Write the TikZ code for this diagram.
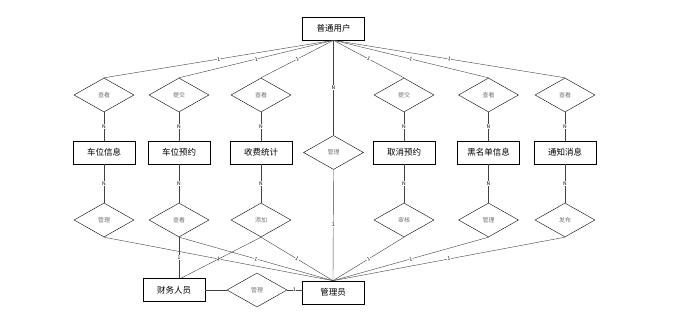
\documentclass[tikz,border=0pt]{standalone}
\usepackage{fontspec}
\setmainfont{Noto Sans CJK SC}
\usetikzlibrary{positioning, shapes.geometric}

\begin{document}
\begin{tikzpicture}[x=1pt, y=-1pt,
      ent/.style={draw, semithick, minimum width=62pt, minimum height=23pt, inner sep=0pt,
                  font=\fontsize{8.5}{9}\selectfont},
      rel/.style={draw, diamond, aspect=1.76, minimum width=60pt, minimum height=34pt,
                  inner sep=0pt, text=black!55, font=\fontsize{6}{7}\selectfont},
      conn/.style={draw=black!75},
      card/.style={font=\fontsize{5}{5}\selectfont, fill=white, inner sep=0.5pt},
   ]
   \useasboundingbox (0,0) rectangle (678,320);

   % ---- entities on top and bottom ----
   \node[ent] (user) at (333.5,28.5) {普通用户};
   \node[ent] (fin) at (174,290) {财务人员};
   \node[rel] (mg2) at (257,290) {管理};
   \node[ent] (admin) at (333,292.5) {管理员};

   % ---- six columns ----
   \foreach \i/\x/\ra/\en/\rb in {
         1/104/查看/车位信息/管理, 2/179/提交/车位预约/查看, 3/261/查看/收费统计/添加,
         4/404/提交/取消预约/审核, 5/488.5/查看/黑名单信息/管理, 6/565/查看/通知消息/发布}{
      \node[rel] (ra\i) at (\x,95) {\ra};
      \node[ent] (en\i) at (\x,152.5) {\en};
      \node[rel] (rb\i) at (\x,220) {\rb};
      \draw[conn] (user.south) -- node[card, sloped] {1} (ra\i.north);
      \draw[conn] (ra\i.south) -- node[card] {N} (en\i.north);
      \draw[conn] (en\i.south) -- node[card] {N} (rb\i.north);
      \draw[conn] (rb\i.south) -- node[card, sloped] {1} (admin.north);
   }

   % ---- middle relation ----
   \node[rel] (mg) at (333.5,152.5) {管理};
   \draw[conn] (user.south) -- node[card] {N} (mg.north);
   \draw[conn] (mg.south) -- node[card] {1} (admin.north);

   % ---- finance staff ----
   \draw[conn] (rb2.south) -- node[card] {1} (rb2.south |- fin.north);
   \draw[conn] (rb3.south) -- ([xshift=7pt]fin.north);
   \draw[conn] (fin.east) -- (fin.east -| mg2.west);
   \draw[conn] (mg2.east) -- node[card] {1} (mg2.east -| admin.west);

\end{tikzpicture}
\end{document}
